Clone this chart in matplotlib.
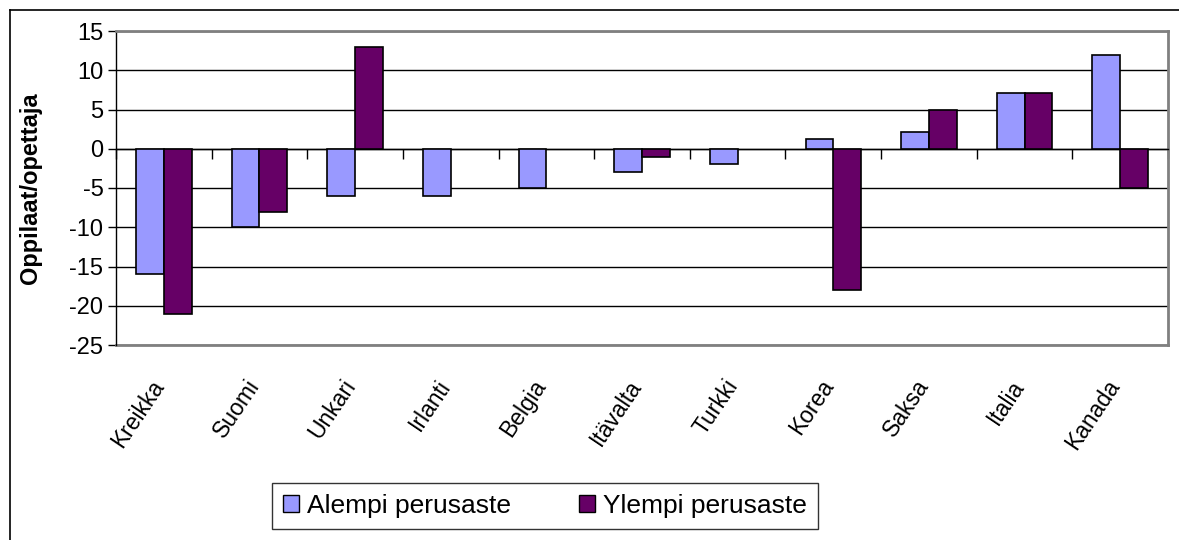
import numpy as np
import matplotlib
matplotlib.use("Agg")
import matplotlib.pyplot as plt
from matplotlib.lines import Line2D
from matplotlib.transforms import blended_transform_factory, offset_copy

plt.rcParams['font.family'] = ['Liberation Sans', 'DejaVu Sans']
plt.rcParams['axes.unicode_minus'] = False

maat = ['Kreikka', 'Suomi', 'Unkari', 'Irlanti', 'Belgia', 'Itävalta',
        'Turkki', 'Korea', 'Saksa', 'Italia', 'Kanada']
alempi = [-16, -10, -6, -6, -5, -3, -2, 1.2, 2.1, 7.1, 12]
ylempi = [-21, -8, 13, np.nan, np.nan, -1, np.nan, -18, 5, 7.1, -5]
sarjat = ['Alempi perusaste', 'Ylempi perusaste']
varit = ['#9999FF', '#660066']

fig = plt.figure(figsize=(11.79, 5.4), dpi=100)
W, H = 1179, 540
ax = fig.add_axes([116 / W, 1 - 345 / H, 1052 / W, 314 / H])

x = np.arange(len(maat))
bw = 0.29
ax.bar(x - bw / 2, alempi, bw, color=varit[0], edgecolor='black', linewidth=1.2, zorder=3)
ax.bar(x + bw / 2, ylempi, bw, color=varit[1], edgecolor='black', linewidth=1.2, zorder=3)

ax.set_xlim(-0.5, len(maat) - 0.5)
ax.set_ylim(-25, 15)
ax.set_yticks(np.arange(-25, 16, 5))
ax.yaxis.grid(True, color='black', linewidth=1)
ax.set_axisbelow(True)
ax.tick_params(axis='y', labelsize=17, length=6, width=1, direction='out', pad=3)

# x axis crosses at zero, ticks at category boundaries
ax.spines['bottom'].set_position(('data', 0))
ax.spines['bottom'].set_linewidth(1)
ax.set_xticks(np.arange(-0.5, len(maat), 1))
ax.set_xticklabels([])
ax.tick_params(axis='x', length=7, width=1, direction='out')
for s in ['top', 'right']:
    ax.spines[s].set_color('#808080')
    ax.spines[s].set_linewidth(2)
ax.spines['left'].set_linewidth(1)
ax.add_line(Line2D([0, 1], [0, 0], transform=ax.transAxes, color='#808080',
                   linewidth=2, clip_on=False, zorder=1))

trans = offset_copy(blended_transform_factory(ax.transData, ax.transAxes),
                    fig=fig, x=0, y=-37, units='dots')
for i, m in enumerate(maat):
    ax.text(x[i] - 0.05, 0, m, transform=trans, rotation=56, ha='right', va='center',
            rotation_mode='anchor', fontsize=16.5)

ax.set_ylabel('Oppilaat/opettaja', fontsize=17, fontweight='bold', labelpad=20)

handles = [plt.Rectangle((0, 0), 1, 1, facecolor=c, edgecolor='black', linewidth=1) for c in varit]
leg = fig.legend(handles, sarjat, loc='center', bbox_to_anchor=(545 / W, 1 - 506 / H),
                 ncol=2, fontsize=19, frameon=True, fancybox=False, edgecolor='black',
                 handlelength=0.6, handleheight=0.6, handletextpad=0.3, columnspacing=2.6,
                 borderpad=0.4)
leg.get_frame().set_linewidth(1)

# outer chart frame
fig.add_artist(Line2D([10 / W, 10 / W], [0, 1 - 10 / H], color='black', linewidth=1.2))
fig.add_artist(Line2D([10 / W, 1], [1 - 10 / H, 1 - 10 / H], color='black', linewidth=1.2))

fig.savefig('out.png', dpi=100, facecolor='white')
